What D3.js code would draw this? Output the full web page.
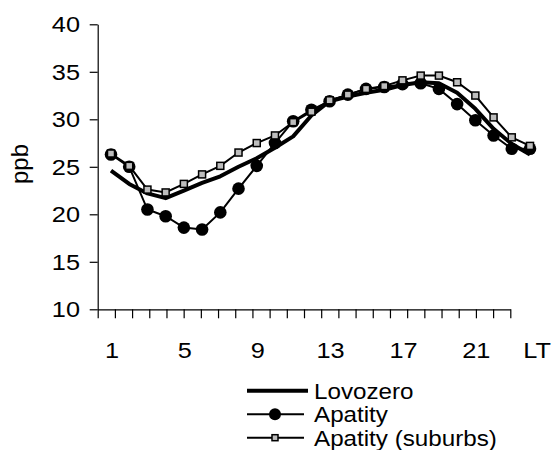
<!DOCTYPE html>
<html><head><meta charset="utf-8">
<script src="https://cdn.jsdelivr.net/npm/d3@7"></script>
<style>body{margin:0;background:#fff}svg{display:block}text{font-family:"Liberation Sans",Arial,sans-serif;fill:#000}</style>
</head><body>
<svg id="c" width="553" height="450"></svg>
<script>
const hours = d3.range(1, 25);
const lovozero = [24.6, 23.2, 22.2, 21.7, 22.5, 23.3, 24.0, 25.0, 25.9, 27.0, 28.2, 30.4, 31.9, 32.4, 32.8, 33.1, 33.6, 33.9, 33.8, 32.8, 31.1, 29.0, 27.4, 26.3];
const apatity = [26.3, 25.0, 20.5, 19.8, 18.6, 18.4, 20.2, 22.7, 25.1, 27.5, 29.8, 31.0, 31.9, 32.6, 33.2, 33.4, 33.7, 33.8, 33.2, 31.6, 29.9, 28.3, 26.9, 26.9];
const suburbs = [26.4, 25.1, 22.6, 22.3, 23.2, 24.2, 25.1, 26.5, 27.5, 28.3, 29.7, 30.8, 32.0, 32.6, 33.2, 33.5, 34.1, 34.6, 34.6, 33.9, 32.5, 30.2, 28.1, 27.2];
const yTicks = [10, 15, 20, 25, 30, 35, 40];
const xLabels = [1, 5, 9, 13, 17, 21];
const legendNames = ["Lovozero", "Apatity", "Apatity (suburbs)"];

const svg = d3.select("#c");
const SX = 1.15;
const x = d3.scaleLinear().domain([1, 24]).range([111, 530]);
const xTickScale = d3.scaleLinear().domain([0, 24]).range([97.7, 510.3]);
const y = d3.scaleLinear().domain([10, 40]).range([309.3, 24.3]);

// y axis
const yAxis = svg.append("g").attr("transform", "translate(97.7,0)")
  .call(d3.axisLeft(y).tickValues(yTicks).tickSize(8).tickSizeOuter(0).tickFormat(""));
yAxis.select(".domain").attr("stroke", "#000").attr("stroke-width", 1.2);
yAxis.selectAll(".tick line").attr("stroke", "#000").attr("stroke-width", 1.2);
svg.append("g").selectAll("text").data(yTicks).join("text")
  .attr("transform", d => `translate(80,${y(d) + 8}) scale(${SX},1)`)
  .attr("text-anchor", "end").attr("font-size", 22).text(d => d);

// x axis
const xAxis = svg.append("g").attr("transform", "translate(0,309.3)")
  .call(d3.axisBottom(xTickScale).tickValues(d3.range(25)).tickSize(9).tickSizeOuter(0).tickFormat(""));
xAxis.select(".domain").attr("stroke", "#000").attr("stroke-width", 1.2);
xAxis.selectAll(".tick line").attr("stroke", "#000").attr("stroke-width", 1.2);
svg.append("g").selectAll("text").data(xLabels).join("text")
  .attr("transform", d => `translate(${x(d) + 1},358) scale(${SX},1)`)
  .attr("text-anchor", "middle").attr("font-size", 22).text(d => d);
svg.append("text").attr("transform", `translate(537,358) scale(${SX},1)`)
  .attr("text-anchor", "middle").attr("font-size", 22).text("LT");

// y title
svg.append("text").attr("transform", "translate(28,164) rotate(-90)")
  .attr("text-anchor", "middle").attr("font-size", 24).text("ppb");

const line = d3.line().x((d, i) => x(hours[i])).y(d => y(d));

// Lovozero
svg.append("path").datum(lovozero).attr("d", line)
  .attr("fill", "none").attr("stroke", "#000").attr("stroke-width", 4).attr("stroke-linejoin", "round");
// Apatity
svg.append("path").datum(apatity).attr("d", line)
  .attr("fill", "none").attr("stroke", "#000").attr("stroke-width", 2);
svg.append("g").selectAll("circle").data(apatity).join("circle")
  .attr("cx", (d, i) => x(hours[i])).attr("cy", d => y(d)).attr("r", 6.3).attr("fill", "#000");
// Suburbs
svg.append("path").datum(suburbs).attr("d", line)
  .attr("fill", "none").attr("stroke", "#000").attr("stroke-width", 2);
svg.append("g").selectAll("rect").data(suburbs).join("rect")
  .attr("x", (d, i) => x(hours[i]) - 3.5).attr("y", d => y(d) - 3.5)
  .attr("width", 7).attr("height", 7).attr("fill", "#bdbdbd").attr("stroke", "#000").attr("stroke-width", 1.5);

// legend
const lg = svg.append("g");
const ly = [390.7, 414.3, 437.7];
lg.append("line").attr("x1", 247).attr("x2", 308).attr("y1", ly[0]).attr("y2", ly[0]).attr("stroke", "#000").attr("stroke-width", 4);
lg.append("line").attr("x1", 247).attr("x2", 304).attr("y1", ly[1]).attr("y2", ly[1]).attr("stroke", "#000").attr("stroke-width", 2);
lg.append("circle").attr("cx", 275).attr("cy", ly[1]).attr("r", 6).attr("fill", "#000");
lg.append("line").attr("x1", 247).attr("x2", 304).attr("y1", ly[2]).attr("y2", ly[2]).attr("stroke", "#000").attr("stroke-width", 2);
lg.append("rect").attr("x", 272).attr("y", ly[2] - 3).attr("width", 6).attr("height", 6)
  .attr("fill", "#bdbdbd").attr("stroke", "#000").attr("stroke-width", 1.5);
lg.selectAll("text").data(legendNames).join("text")
  .attr("transform", (d, i) => `translate(314,${ly[i] + 8}) scale(1.1,1)`)
  .attr("font-size", 22).text(d => d);
</script>
</body></html>
